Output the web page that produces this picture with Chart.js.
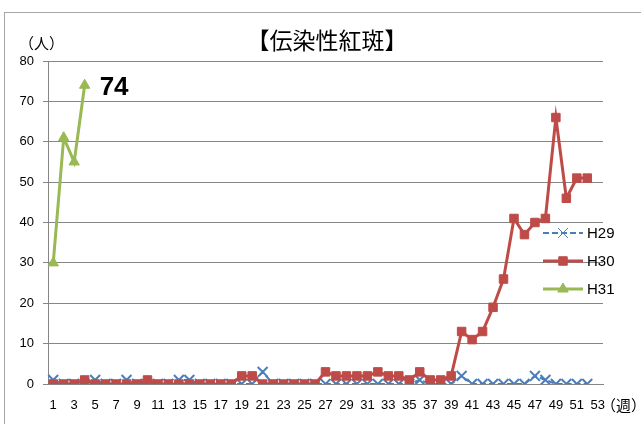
<!DOCTYPE html>
<html>
<head>
<meta charset="utf-8">
<script src="https://cdn.jsdelivr.net/npm/chart.js@4.4.1/dist/chart.umd.min.js"></script>
<style>
  html, body { margin: 0; padding: 0; background: #fff; }
  #wrap { width: 641px; height: 424px; position: relative; }
</style>
</head>
<body>
<div id="wrap"><canvas id="chart"></canvas></div>
<script>
const weeks = ["1","2","3","4","5","6","7","8","9","10","11","12","13","14","15","16","17","18","19","20",
  "21","22","23","24","25","26","27","28","29","30","31","32","33","34","35","36","37","38","39","40",
  "41","42","43","44","45","46","47","48","49","50","51","52","53"];

const h29 = [1,0,0,0,1,0,0,1,0,0, 0,0,1,1,0,0,0,0,0,0, 3,0,0,0,0,0,0,0,0,0,
  0,0,0,0,0,1,0,0,0,2, 0,0,0,0,0,0,2,1,0,0, 0,0];
const h30 = [0,0,0,1,0,0,0,0,0,1, 0,0,0,0,0,0,0,0,2,2, 0,0,0,0,0,0,3,2,2,2,
  2,3,2,2,1,3,1,1,2,13, 11,13,19,26,41,37,40,41,66,46, 51,51];
const h31 = [30,61,55,74];

const seriesNames = ["H29", "H30", "H31"];
const title = "【伝染性紅斑】";
const yUnit = "（人）";
const xUnit = "（週）";
const yMax = 80;
const yStep = 10;

const BLUE = "#4a7ebb";
const RED = "#be4b48";
const GREEN = "#98b954";
const TXT = "#000";
const FONT = "'Liberation Sans', Arial, sans-serif";
const JFONT = "'Noto Sans CJK JP', 'Noto Sans', sans-serif";

const decor = {
  id: "decor",
  beforeDraw(chart) {
    const ctx = chart.ctx;
    ctx.save();
    ctx.strokeStyle = "#a6a6a6";
    ctx.lineWidth = 1;
    ctx.strokeRect(4.5, 12.5, 700, 500);
    ctx.restore();
  },
  afterDraw(chart) {
    const ctx = chart.ctx;
    ctx.save();
    ctx.fillStyle = TXT;
    ctx.textBaseline = "middle";

    ctx.font = "23px " + JFONT;
    ctx.textAlign = "center";
    ctx.fillText(title, 327, 40);

    ctx.font = "15px " + JFONT;
    ctx.textAlign = "left";
    ctx.fillText(yUnit, 19, 43);
    ctx.fillText(xUnit, 601, 405);

    // label for the last H31 point
    const m31 = chart.getDatasetMeta(2);
    const last = m31.data[h31.length - 1];
    ctx.font = "bold 26px " + FONT;
    ctx.fillText(String(h31[h31.length - 1]), last.x + 15, last.y + 3);

    // legend
    const rows = [233, 261, 289];
    chart.data.datasets.forEach((ds, i) => {
      const y = rows[i];
      ctx.save();
      ctx.strokeStyle = ds.borderColor;
      ctx.lineWidth = ds.borderWidth;
      ctx.setLineDash(ds.borderDash || []);
      ctx.beginPath();
      ctx.moveTo(543, y);
      ctx.lineTo(583, y);
      ctx.stroke();
      ctx.restore();
      ctx.save();
      ctx.fillStyle = ds.pointBackgroundColor;
      ctx.strokeStyle = ds.pointBorderColor;
      Chart.helpers.drawPoint(ctx, {
        pointStyle: ds.pointStyle,
        radius: ds.pointRadius,
        rotation: 0,
        borderWidth: ds.pointBorderWidth
      }, 563, y);
      ctx.restore();
      ctx.font = "15px " + FONT;
      ctx.fillStyle = TXT;
      ctx.textAlign = "left";
      ctx.fillText(ds.label, 587, y + 1);
    });
    ctx.restore();
  }
};

new Chart(document.getElementById("chart"), {
  type: "line",
  data: {
    labels: weeks,
    datasets: [
      {
        label: seriesNames[0],
        data: h29,
        borderColor: BLUE,
        borderWidth: 2,
        borderDash: [6, 3],
        pointStyle: "crossRot",
        pointRadius: 7,
        pointBorderWidth: 2,
        pointBackgroundColor: BLUE,
        pointBorderColor: BLUE,
        tension: 0,
        order: 3
      },
      {
        label: seriesNames[1],
        data: h30,
        borderColor: RED,
        borderWidth: 3,
        pointStyle: "rect",
        pointRadius: 6,
        pointBorderWidth: 1,
        pointBackgroundColor: RED,
        pointBorderColor: RED,
        tension: 0,
        order: 2
      },
      {
        label: seriesNames[2],
        data: h31,
        borderColor: GREEN,
        borderWidth: 3,
        pointStyle: "triangle",
        pointRadius: 6,
        pointBorderWidth: 1,
        pointBackgroundColor: GREEN,
        pointBorderColor: GREEN,
        tension: 0,
        order: 1
      }
    ]
  },
  options: {
    animation: false,
    responsive: true,
    maintainAspectRatio: false,
    layout: { padding: { top: 61, right: 38, left: 0, bottom: 0 } },
    plugins: {
      legend: { display: false },
      title: { display: false },
      tooltip: { enabled: false }
    },
    scales: {
      x: {
        offset: true,
        grid: { display: false, drawTicks: false },
        border: { display: true, color: "#868686", width: 1 },
        ticks: {
          autoSkip: false,
          maxRotation: 0,
          padding: 14,
          color: TXT,
          font: { family: FONT, size: 13 },
          callback: (v, i) => (i % 2 === 0 ? weeks[i] : "")
        },
        afterFit: (axis) => { axis.height = 40; }
      },
      y: {
        min: 0,
        max: yMax,
        ticks: {
          stepSize: yStep,
          padding: 9,
          color: TXT,
          font: { family: FONT, size: 13 }
        },
        grid: { color: "#868686", lineWidth: 1, tickLength: 5, drawTicks: true },
        border: { display: true, color: "#868686", width: 1 },
        afterFit: (axis) => { axis.width = 48; }
      }
    }
  },
  plugins: [decor]
});
</script>
</body>
</html>
